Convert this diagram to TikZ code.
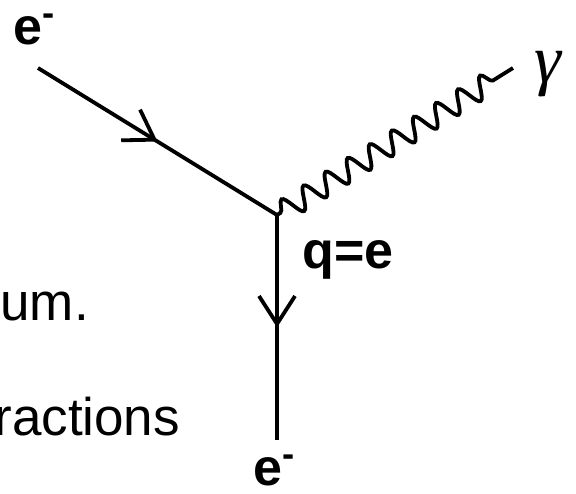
\documentclass[tikz,border=0pt]{standalone}
\usepackage{fontspec}
\setmainfont{Liberation Sans}
\newfontfamily\griega{Liberation Serif}
\usetikzlibrary{arrows.meta, decorations.markings, decorations.pathmorphing}

\begin{document}
\begin{tikzpicture}[x=0.5pt, y=-0.5pt,
    every node/.style={inner sep=0pt},
    particula/.style={font=\fontsize{26}{30}\selectfont\bfseries, anchor=base west, text height=0.75em, text depth=0pt},
    texto/.style={font=\fontsize{26.5}{32}\selectfont, anchor=base west},
    fermion/.style={line width=1.9pt, postaction={decorate},
      decoration={markings, mark=at position 0.5 with {\arrow{Straight Barb[length=14pt, width=18pt]}}}},
    foton/.style={line width=1.9pt, decorate,
      decoration={snake, amplitude=5.5pt, segment length=13pt, pre length=2pt, post length=6pt}}
  ]
  \useasboundingbox (0,0) rectangle (576,493);
  % Extremos de las lineas y vertice
  \coordinate (ein)  at (38,68);
  \coordinate (v)    at (277,215);
  \coordinate (eout) at (277,440);
  \coordinate (gfin) at (513,68);
  % Etiquetas de las particulas
  \node[particula] (e1) at (13,44)  {e\textsuperscript{-}};
  \node[particula] (e2) at (253,485) {e\textsuperscript{-}};
  \node[particula] (q)  at (302,268) {q=e};
  \node[anchor=base west, font=\fontsize{34}{38}\selectfont\griega\itshape] (g) at (534,82) {γ};
  % Texto de la diapositiva, cortado por el borde
  \node[texto] (t1) at (0,320)  {um.};
  \node[texto] (t2) at (-6,435) {ractions};
  % Lineas del vertice
  \draw[fermion] (ein) -- (v);
  \draw[fermion] (v) -- (eout);
  \draw[foton] (v) -- (gfin);
\end{tikzpicture}
\end{document}
